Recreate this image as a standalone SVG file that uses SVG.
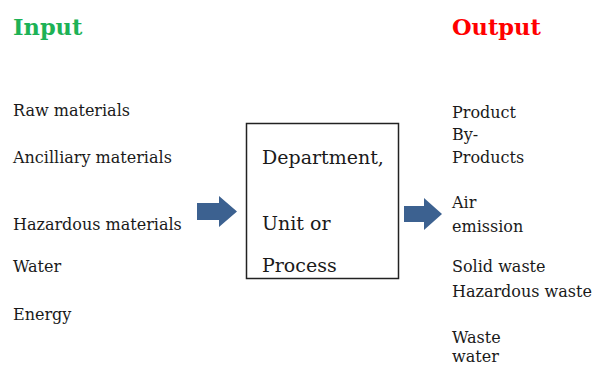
<svg xmlns="http://www.w3.org/2000/svg" width="593" height="365" viewBox="0 0 593 365">
<style>
.t{font-family:"DejaVu Serif","Liberation Serif",serif;font-size:16px;fill:#1a1a1a}
.b{font-family:"DejaVu Serif","Liberation Serif",serif;font-size:19px;fill:#1a1a1a}
.h{font-family:"DejaVu Serif","Liberation Serif",serif;font-size:22.5px;font-weight:bold}
.arr{fill:#3C6190}
</style>
<rect width="593" height="365" fill="#ffffff"/>
<g id="input">
<text class="h" x="13" y="35" fill="#1DB256">Input</text>
<text class="t" x="13" y="116">Raw materials</text>
<text class="t" x="13" y="163">Ancilliary materials</text>
<text class="t" x="13" y="230">Hazardous materials</text>
<text class="t" x="13" y="272">Water</text>
<text class="t" x="13" y="320">Energy</text>
</g>
<g id="process">
<rect x="246.5" y="123.5" width="152" height="155" fill="#ffffff" stroke="#222" stroke-width="1.5"/>
<text class="b" x="262" y="164">Department,</text>
<text class="b" x="262" y="230">Unit or</text>
<text class="b" x="262" y="272">Process</text>
</g>
<g id="output">
<text class="h" x="452" y="35" fill="#FF0000">Output</text>
<text class="t" x="452" y="118">Product</text>
<text class="t" x="452" y="140">By-</text>
<text class="t" x="452" y="163">Products</text>
<text class="t" x="452" y="208">Air</text>
<text class="t" x="452" y="232">emission</text>
<text class="t" x="452" y="272">Solid waste</text>
<text class="t" x="452" y="297">Hazardous waste</text>
<text class="t" x="452" y="343">Waste</text>
<text class="t" x="452" y="362">water</text>
</g>
<g id="connectors">
<path class="arr" d="M197,203 H219 V196 L237,211.5 L219,227 V220 H197 Z"/>
<path class="arr" d="M404,206 H424 V198 L442,214 L424,230 V222 H404 Z"/>
</g>
</svg>
